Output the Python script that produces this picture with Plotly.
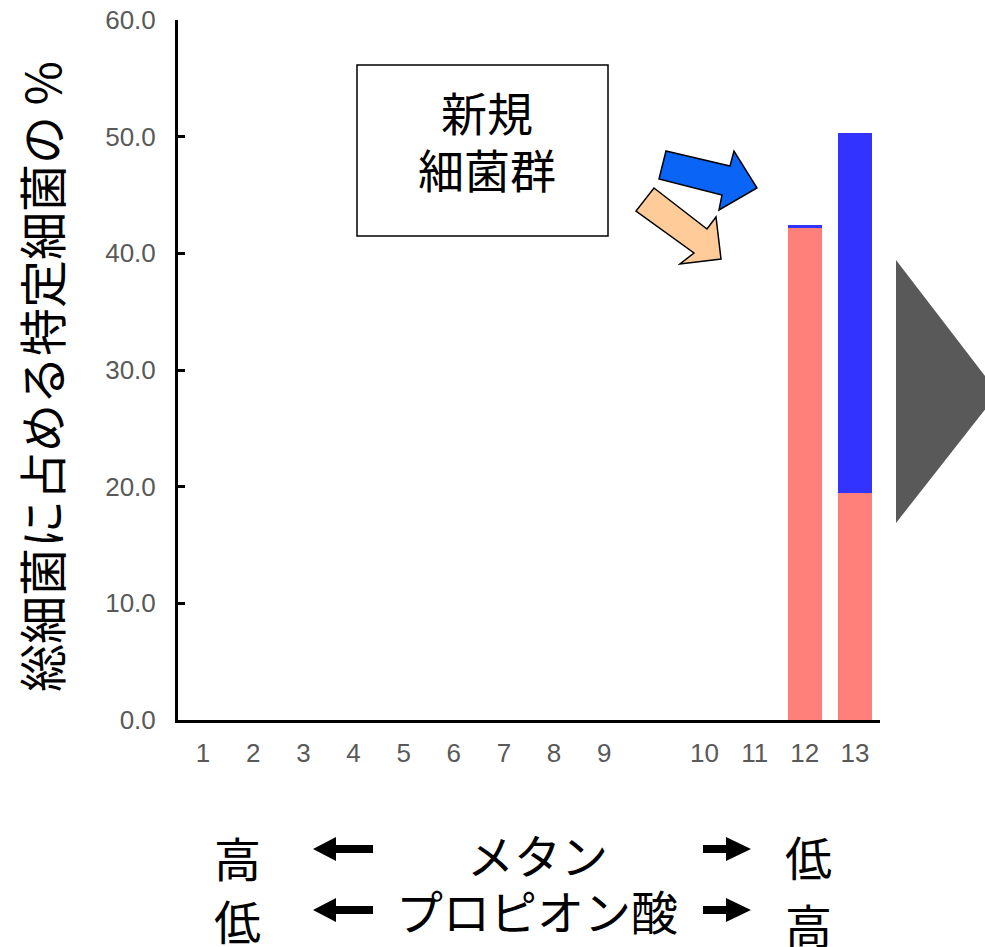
import plotly.graph_objects as go

# ---- data ----
categories = ["1", "2", "3", "4", "5", "6", "7", "8", "9", " ", "10", "11", "12", "13"]
existing_group = [0, 0, 0, 0, 0, 0, 0, 0, 0, 0, 0, 0, 42.2, 19.5]   # salmon
new_group = [0, 0, 0, 0, 0, 0, 0, 0, 0, 0, 0, 0, 0.2, 30.8]         # blue
y_tickvals = [0, 10, 20, 30, 40, 50, 60]
y_title = "総細菌に占める特定細菌の %"
box_lines = ["新規", "細菌群"]

W, H = 985, 947
L, R, T, B = 178, 880, 20, 720


def px(x):
    return (x - L) / (R - L)


def py(y):
    return (B - y) / (B - T)


JP = "Noto Sans CJK JP"
TICKF = "Liberation Sans, Arial, sans-serif"

fig = go.Figure()
fig.add_trace(go.Bar(x=categories, y=existing_group, marker=dict(color="#FF7F7B", line=dict(width=0)),
                     name="existing"))
fig.add_trace(go.Bar(x=categories, y=new_group, marker=dict(color="#3333FF", line=dict(width=0)),
                     name="new"))

fig.update_layout(
    width=W, height=H,
    margin=dict(l=L, r=W - R, t=T, b=H - B, pad=0, autoexpand=False),
    barmode="stack", bargap=0.32,
    showlegend=False,
    plot_bgcolor="white", paper_bgcolor="white",
    font=dict(family=TICKF, color="#595959", size=26),
)
fig.update_xaxes(
    type="category", categoryorder="array", categoryarray=categories,
    showline=True, linecolor="black", linewidth=3, ticks="", showgrid=False,
    tickfont=dict(family=TICKF, size=26, color="#595959"), ticklabelstandoff=8,
    range=[-0.5, len(categories) - 0.5], fixedrange=True, automargin=False,
)
fig.update_yaxes(
    range=[0, 60], tickvals=y_tickvals, tickformat=".1f",
    showline=True, linecolor="black", linewidth=3, ticks="inside", ticklen=7, tickwidth=3,
    tickcolor="black", showgrid=False, zeroline=False, automargin=False,
    tickfont=dict(family=TICKF, size=26, color="#595959"), ticklabelstandoff=14,
)

ann = []
shapes = []
# y-axis title
ann.append(dict(text=y_title, x=px(40), y=py(377), xref="paper", yref="paper", textangle=-90,
                showarrow=False, font=dict(family=JP, size=48, color="black"),
                xanchor="center", yanchor="middle"))

# box with text
shapes.append(dict(type="rect", xref="paper", yref="paper", x0=px(357), x1=px(608), y0=py(65), y1=py(236),
                   line=dict(color="black", width=1.5), fillcolor="white"))
for txt, yy in zip(box_lines, [111, 168]):
    ann.append(dict(text=txt, x=px(487), y=py(yy), xref="paper", yref="paper", showarrow=False,
                    font=dict(family=JP, size=46, color="black"), align="center",
                    xanchor="center", yanchor="middle"))


def poly(pts):
    return "M " + " L ".join(f"{px(a)},{py(b)}" for a, b in pts) + " Z"


# blue arrow
shapes.append(dict(type="path", xref="paper", yref="paper",
                   path=poly([(666, 151), (730, 166), (734, 151), (757, 188), (719, 210), (722, 195), (659, 179)]),
                   fillcolor="#0A64F5", line=dict(color="black", width=1.5)))
# peach arrow
shapes.append(dict(type="path", xref="paper", yref="paper",
                   path=poly([(654, 188), (707, 229), (716, 217), (721, 259), (680, 264), (694, 253), (636, 211)]),
                   fillcolor="#FFCC99", line=dict(color="black", width=1.5)))
# gray triangle
shapes.append(dict(type="path", xref="paper", yref="paper",
                   path=poly([(896, 260), (998, 393), (896, 523)]),
                   fillcolor="#595959", line=dict(width=0)))


def left_arrow(tip, end, yc, head=23, hh=12, hs=4):
    return poly([(tip, yc), (tip + head, yc - hh), (tip + head, yc - hs), (end, yc - hs), (end, yc + hs),
                 (tip + head, yc + hs), (tip + head, yc + hh)])


def right_arrow(start, tip, yc, head=25, hh=12, hs=4):
    return poly([(tip, yc), (tip - head, yc - hh), (tip - head, yc - hs), (start, yc - hs), (start, yc + hs),
                 (tip - head, yc + hs), (tip - head, yc + hh)])


for pth in [left_arrow(313, 373, 849), right_arrow(703, 751, 849),
            left_arrow(313, 373, 910), right_arrow(703, 751, 910)]:
    shapes.append(dict(type="path", xref="paper", yref="paper", path=pth, fillcolor="black",
                       line=dict(width=0)))

bottom = [("高", 237, 856), ("メタン", 537, 853), ("低", 808, 855),
          ("低", 237, 920), ("プロピオン酸", 537, 909), ("高", 808, 923)]
for t, x, y in bottom:
    ann.append(dict(text=t, x=px(x), y=py(y), xref="paper", yref="paper", showarrow=False,
                    font=dict(family=JP, size=47, color="black"), xanchor="center", yanchor="middle"))

fig.update_layout(annotations=ann, shapes=shapes)
fig.write_html("out.html")
